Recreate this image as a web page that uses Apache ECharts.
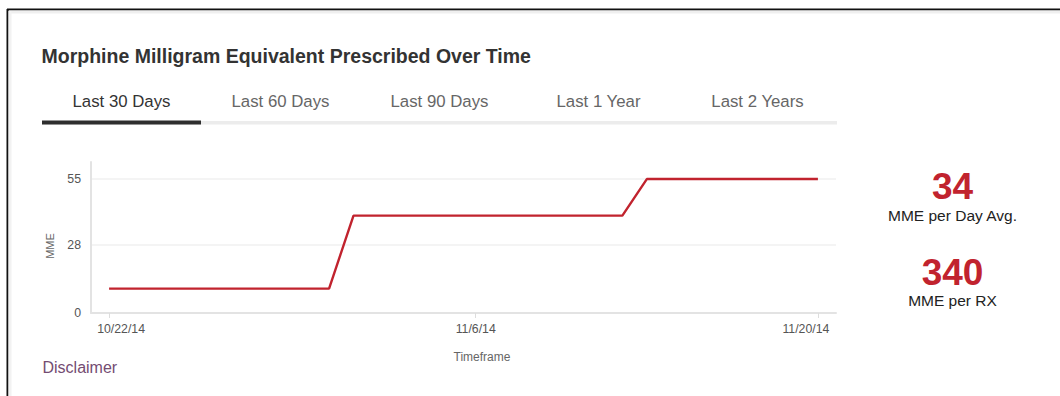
<!DOCTYPE html>
<html>
<head>
<meta charset="utf-8">
<title>Morphine Milligram Equivalent Prescribed Over Time</title>
<script src="https://cdn.jsdelivr.net/npm/echarts@6/dist/echarts.min.js"></script>
<style>
  html, body { margin: 0; padding: 0; background: #ffffff; }
  #chart { width: 1060px; height: 396px; }
</style>
</head>
<body>
<div id="chart"></div>
<script>
// One entry per day in the 30-day window
const dayLabels = [
  '10/22/14', '10/23/14', '10/24/14', '10/25/14', '10/26/14',
  '10/27/14', '10/28/14', '10/29/14', '10/30/14', '10/31/14',
  '11/1/14', '11/2/14', '11/3/14', '11/4/14', '11/5/14',
  '11/6/14', '11/7/14', '11/8/14', '11/9/14', '11/10/14',
  '11/11/14', '11/12/14', '11/13/14', '11/14/14', '11/15/14',
  '11/16/14', '11/17/14', '11/18/14', '11/19/14', '11/20/14'
];

// Daily MME
const mmeValues = [
  10, 10, 10, 10, 10, 10, 10, 10, 10, 10,
  40, 40, 40, 40, 40, 40, 40, 40, 40, 40, 40, 40,
  55, 55, 55, 55, 55, 55, 55, 55
];

// Prescriptions filled in the window
const rxCount = 3;

// Axis ticks
const xTickLabels = ['10/22/14', '11/6/14', '11/20/14'];
const yTickValues = [0, 28, 55];

// Range selector tabs
const tabLabels = ['Last 30 Days', 'Last 60 Days', 'Last 90 Days', 'Last 1 Year', 'Last 2 Years'];
const activeTab = 0;

const FONT = '"Liberation Sans", Arial, Helvetica, sans-serif';
const RED = '#c1232e';

const totalMme = mmeValues.reduce((a, b) => a + b, 0);
const avgPerDay = Math.round(totalMme / mmeValues.length);
const perRx = Math.round(totalMme / rxCount);

const xTickIdx = xTickLabels.map(l => dayLabels.indexOf(l));
const firstIdx = xTickIdx[0];
const lastIdx = xTickIdx[xTickIdx.length - 1];

const chart = echarts.init(document.getElementById('chart'), null, { renderer: 'svg' });

// Tab row: labels plus the track and active underline
const tabW = 159, tabX0 = 42;
const tabGraphics = [];
tabGraphics.push({
  type: 'rect', left: tabX0, top: 121, silent: true,
  shape: { width: tabW * tabLabels.length, height: 3.5 },
  style: { fill: '#ececec' }
});
tabGraphics.push({
  type: 'rect', left: tabX0 + tabW * activeTab, top: 120.5, silent: true,
  shape: { width: tabW, height: 4 },
  style: { fill: '#2e2e2e' }
});
tabLabels.forEach((t, i) => {
  tabGraphics.push({
    type: 'text', x: tabX0 + tabW * i + tabW / 2, y: 101.5, silent: true,
    style: {
      text: t, fill: i === activeTab ? '#333333' : '#666666',
      font: '16.8px ' + FONT, align: 'center', verticalAlign: 'middle'
    }
  });
});

const tickTextStyle = { color: '#555555', fontSize: 12.3, fontFamily: FONT };

const option = {
  animation: false,
  backgroundColor: '#ffffff',
  textStyle: { fontFamily: FONT },
  grid: { left: 91, right: 224, top: 162, bottom: 83, containLabel: false },
  xAxis: {
    type: 'value',
    min: -0.74,
    max: 29.74,
    axisLine: { show: true, onZero: false, lineStyle: { color: '#e3e3e3', width: 2 } },
    axisTick: { show: true, customValues: xTickIdx, length: 5, lineStyle: { color: '#dddddd', width: 1 } },
    axisLabel: {
      customValues: xTickIdx,
      // end labels are nudged inward so they stay inside the plot width
      formatter: v => {
        const i = Math.round(v);
        const name = i === firstIdx ? 'first' : (i === lastIdx ? 'last' : 'mid');
        return '{' + name + '|' + dayLabels[i] + '}';
      },
      margin: 10,
      rich: {
        first: Object.assign({ padding: [0, 0, 0, 24] }, tickTextStyle),
        mid: Object.assign({}, tickTextStyle),
        last: Object.assign({ padding: [0, 24, 0, 0] }, tickTextStyle)
      }
    },
    splitLine: { show: false }
  },
  yAxis: {
    type: 'value',
    min: 0,
    max: 62,
    axisLine: { show: true, onZero: false, lineStyle: { color: '#e3e3e3', width: 2 } },
    axisTick: { show: false, customValues: yTickValues },
    axisLabel: Object.assign({ customValues: yTickValues, margin: 10 }, tickTextStyle),
    splitLine: { show: true, lineStyle: { color: '#f1f1f1', width: 1.5 } }
  },
  series: [{
    type: 'line',
    data: mmeValues.map((v, i) => [i, v]),
    showSymbol: false,
    lineStyle: { color: RED, width: 2.4 },
    itemStyle: { color: RED }
  }],
  graphic: [
    // card border
    { type: 'line', silent: true, shape: { x1: 7, y1: 9.5, x2: 1060, y2: 9.5 }, style: { stroke: '#111111', lineWidth: 2 } },
    { type: 'line', silent: true, shape: { x1: 7.5, y1: 9, x2: 7.5, y2: 396 }, style: { stroke: '#111111', lineWidth: 2 } },
    { type: 'line', silent: true, shape: { x1: 9, y1: 12, x2: 1060, y2: 12 }, style: { stroke: '#efefef', lineWidth: 3 } },
    { type: 'line', silent: true, shape: { x1: 10, y1: 11, x2: 10, y2: 396 }, style: { stroke: '#f2f2f2', lineWidth: 3 } },
    // heading
    {
      type: 'text', x: 41.5, y: 55.5, silent: true,
      style: {
        text: 'Morphine Milligram Equivalent Prescribed Over Time',
        fill: '#333333', font: 'bold 19.5px ' + FONT, verticalAlign: 'middle'
      }
    },
    ...tabGraphics,
    // axis names
    {
      type: 'text', x: 49.5, y: 246, rotation: Math.PI / 2, silent: true,
      style: { text: 'MME', fill: '#666666', font: '11px ' + FONT, align: 'center', verticalAlign: 'middle' }
    },
    {
      type: 'text', x: 482, y: 357, silent: true,
      style: { text: 'Timeframe', fill: '#666666', font: '12px ' + FONT, align: 'center', verticalAlign: 'middle' }
    },
    // summary figures
    {
      type: 'text', x: 952.5, y: 186, silent: true,
      style: { text: String(avgPerDay), fill: RED, font: 'bold 37px ' + FONT, align: 'center', verticalAlign: 'middle' }
    },
    {
      type: 'text', x: 952.5, y: 215, silent: true,
      style: { text: 'MME per Day Avg.', fill: '#222222', font: '15.5px ' + FONT, align: 'center', verticalAlign: 'middle' }
    },
    {
      type: 'text', x: 952.5, y: 272, silent: true,
      style: { text: String(perRx), fill: RED, font: 'bold 37px ' + FONT, align: 'center', verticalAlign: 'middle' }
    },
    {
      type: 'text', x: 952.5, y: 300, silent: true,
      style: { text: 'MME per RX', fill: '#222222', font: '15.5px ' + FONT, align: 'center', verticalAlign: 'middle' }
    },
    // footer link
    {
      type: 'text', x: 42.5, y: 367, silent: true,
      style: { text: 'Disclaimer', fill: '#744c72', font: '16px ' + FONT, verticalAlign: 'middle' }
    }
  ]
};

chart.setOption(option);
</script>
</body>
</html>
